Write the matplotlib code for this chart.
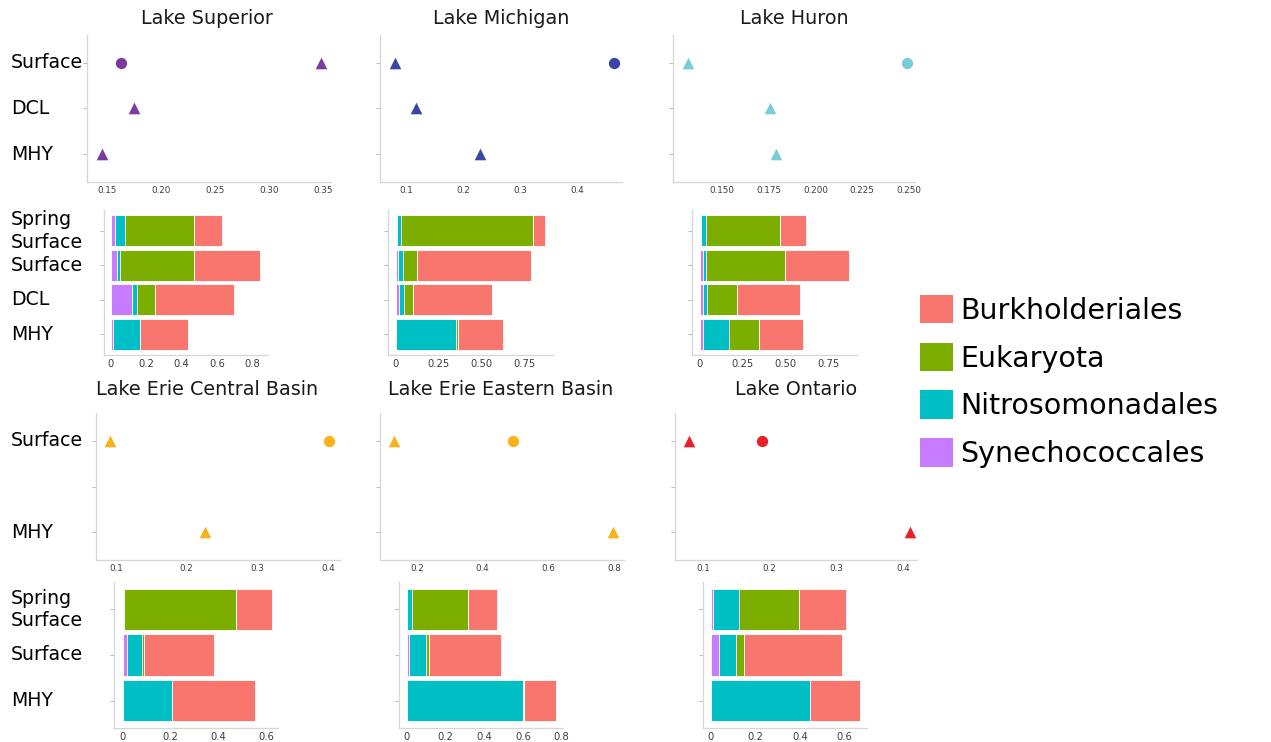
import matplotlib
matplotlib.use("Agg")
import matplotlib.pyplot as plt
from matplotlib.patches import Patch
from matplotlib.transforms import blended_transform_factory

# ---------------- data ----------------
lakes = ["Lake Superior", "Lake Michigan", "Lake Huron",
         "Lake Erie Central Basin", "Lake Erie Eastern Basin", "Lake Ontario"]
lake_colors = ["#7b3a9e", "#3946a6", "#79cdd9", "#fbb118", "#fbb118", "#e8202a"]

depths_3 = ["Surface", "DCL", "MHY"]
depth_labels_erie = ["Surface", "", "MHY"]

# triangle values per depth (Surface, DCL, MHY); None = no sample
tri_superior = [0.348, 0.175, 0.145]
tri_michigan = [0.081, 0.118, 0.230]
tri_huron = [0.132, 0.1755, 0.179]
tri_erie_central = [0.092, None, 0.2255]
tri_erie_eastern = [0.130, None, 0.797]
tri_ontario = [0.079, None, 0.411]

# circle value (surface only)
circ_superior = 0.163
circ_michigan = 0.465
circ_huron = 0.249
circ_erie_central = 0.401
circ_erie_eastern = 0.491
circ_ontario = 0.188

# dot-plot x axes
dot_xlims = [(0.1315, 0.3574), (0.0544, 0.479), (0.1238, 0.2532),
             (0.0717, 0.417), (0.0873, 0.830), (0.058, 0.421)]
dot_ticks = [
    [0.15, 0.20, 0.25, 0.30, 0.35],
    [0.1, 0.2, 0.3, 0.4],
    [0.150, 0.175, 0.200, 0.225, 0.250],
    [0.1, 0.2, 0.3, 0.4],
    [0.2, 0.4, 0.6, 0.8],
    [0.1, 0.2, 0.3, 0.4],
]
dot_ticklabels = [
    ["0.15", "0.20", "0.25", "0.30", "0.35"],
    ["0.1", "0.2", "0.3", "0.4"],
    ["0.150", "0.175", "0.200", "0.225", "0.250"],
    ["0.1", "0.2", "0.3", "0.4"],
    ["0.2", "0.4", "0.6", "0.8"],
    ["0.1", "0.2", "0.3", "0.4"],
]

samples_4 = ["Spring\nSurface", "Surface", "DCL", "MHY"]
samples_3 = ["Spring\nSurface", "Surface", "MHY"]

taxa = ["Synechococcales", "Nitrosomonadales", "Eukaryota", "Burkholderiales"]
taxa_colors = ["#C77CFF", "#00BFC4", "#7CAE00", "#F8766D"]

# relative abundance of each order (stacked left to right)
syn_superior = [0.025, 0.038, 0.119, 0.015]
nit_superior = [0.056, 0.015, 0.031, 0.149]
euk_superior = [0.389, 0.417, 0.102, 0.004]
bur_superior = [0.160, 0.375, 0.446, 0.271]

syn_michigan = [0.006, 0.012, 0.017, 0.004]
nit_michigan = [0.025, 0.033, 0.030, 0.346]
euk_michigan = [0.769, 0.081, 0.056, 0.011]
bur_michigan = [0.070, 0.663, 0.460, 0.265]

syn_huron = [0.010, 0.019, 0.019, 0.019]
nit_huron = [0.027, 0.020, 0.026, 0.153]
euk_huron = [0.430, 0.459, 0.170, 0.173]
bur_huron = [0.149, 0.370, 0.368, 0.258]

syn_erie_central = [0.001, 0.018, 0.002]
nit_erie_central = [0.003, 0.063, 0.204]
euk_erie_central = [0.467, 0.009, 0.001]
bur_erie_central = [0.150, 0.292, 0.346]

syn_erie_eastern = [0.002, 0.012, 0.001]
nit_erie_eastern = [0.026, 0.085, 0.601]
euk_erie_eastern = [0.288, 0.019, 0.001]
bur_erie_eastern = [0.148, 0.368, 0.170]

syn_ontario = [0.009, 0.036, 0.003]
nit_ontario = [0.120, 0.076, 0.443]
euk_ontario = [0.267, 0.038, 0.001]
bur_ontario = [0.211, 0.441, 0.225]

bar_xlims = [(-0.038, 0.889), (-0.045, 0.917), (-0.045, 0.915),
             (-0.036, 0.647), (-0.041, 0.807), (-0.035, 0.702)]
bar_ticks = [
    [0, 0.2, 0.4, 0.6, 0.8],
    [0, 0.25, 0.50, 0.75],
    [0, 0.25, 0.50, 0.75],
    [0, 0.2, 0.4, 0.6],
    [0, 0.2, 0.4, 0.6, 0.8],
    [0, 0.2, 0.4, 0.6],
]
bar_ticklabels = [
    ["0", "0.2", "0.4", "0.6", "0.8"],
    ["0", "0.25", "0.50", "0.75"],
    ["0", "0.25", "0.50", "0.75"],
    ["0", "0.2", "0.4", "0.6"],
    ["0", "0.2", "0.4", "0.6", "0.8"],
    ["0", "0.2", "0.4", "0.6"],
]

# ---------------- layout ----------------
W, H = 1271, 742
fig = plt.figure(figsize=(W / 100, H / 100), dpi=100)
fig.patch.set_facecolor("white")


def axes_px(x0, y0, x1, y1):
    return fig.add_axes([x0 / W, 1 - y1 / H, (x1 - x0) / W, (y1 - y0) / H])


SPINE = "#d6d6d6"
TICKTXT = "#3d3d3d"


def style(ax, fs):
    for s in ("top", "right"):
        ax.spines[s].set_visible(False)
    for s in ("left", "bottom"):
        ax.spines[s].set_color(SPINE)
        ax.spines[s].set_linewidth(0.9)
    ax.tick_params(axis="y", length=3, width=0.7, color="#bbbbbb", labelleft=False)
    ax.tick_params(axis="x", length=0, pad=3, labelsize=fs, labelcolor=TICKTXT)
    ax.set_facecolor("white")


dot_boxes = [(87, 35, 331, 182), (380, 35, 622, 182), (673, 35, 915, 182),
             (96, 413, 340, 560), (380, 413, 624, 560), (675, 413, 917, 560)]
bar_boxes = [(104, 210, 268, 355), (388, 210, 553, 355), (692, 210, 857, 355),
             (114, 582, 278, 728), (399, 582, 563, 728), (703, 582, 867, 728)]
title_centers = [(207, 18), (501, 18), (794, 18), (207, 390), (501, 390), (796, 390)]

tri_all = [tri_superior, tri_michigan, tri_huron,
           tri_erie_central, tri_erie_eastern, tri_ontario]
circ_all = [circ_superior, circ_michigan, circ_huron,
            circ_erie_central, circ_erie_eastern, circ_ontario]
bars_all = [
    (syn_superior, nit_superior, euk_superior, bur_superior),
    (syn_michigan, nit_michigan, euk_michigan, bur_michigan),
    (syn_huron, nit_huron, euk_huron, bur_huron),
    (syn_erie_central, nit_erie_central, euk_erie_central, bur_erie_central),
    (syn_erie_eastern, nit_erie_eastern, euk_erie_eastern, bur_erie_eastern),
    (syn_ontario, nit_ontario, euk_ontario, bur_ontario),
]

LABEL_X = 11 / W
LABEL_FS = 13.6

for i in range(6):
    col = lake_colors[i]

    # dot panel
    ax = axes_px(*dot_boxes[i])
    style(ax, 6.3)
    ys = [k for k, v in enumerate(tri_all[i]) if v is not None]
    xs = [v for v in tri_all[i] if v is not None]
    ax.scatter(xs, ys, marker="^", s=70, color=col, linewidths=0, zorder=3,
               clip_on=False)
    ax.scatter([circ_all[i]], [0], marker="o", s=66, color=col, linewidths=0,
               zorder=3, clip_on=False)
    ax.set_yticks(range(3))
    ax.set_ylim(2.6, -0.6)
    ax.set_xlim(*dot_xlims[i])
    ax.set_xticks(dot_ticks[i])
    ax.set_xticklabels(dot_ticklabels[i])
    if i % 3 == 0:
        labels = depths_3 if i < 3 else depth_labels_erie
        tr = blended_transform_factory(fig.transFigure, ax.transData)
        for k, lab in enumerate(labels):
            if lab:
                ax.text(LABEL_X, k, lab, transform=tr, ha="left", va="center",
                        fontsize=LABEL_FS, color="black")
    fig.text(title_centers[i][0] / W, 1 - title_centers[i][1] / H, lakes[i],
             ha="center", va="center", fontsize=13.8, color="#1a1a1a")

    # stacked bar panel
    bx = axes_px(*bar_boxes[i])
    style(bx, 7.2)
    samples = samples_4 if i < 3 else samples_3
    n = len(samples)
    left = [0.0] * n
    for vals, c in zip(bars_all[i], taxa_colors):
        bx.barh(range(n), vals, left=left, height=0.9, color=c,
                edgecolor="white", linewidth=0.6, zorder=2)
        left = [a + b for a, b in zip(left, vals)]
    bx.set_xlim(*bar_xlims[i])
    bx.set_yticks(range(n))
    bx.set_ylim(n - 0.4, -0.6)
    bx.set_xticks(bar_ticks[i])
    bx.set_xticklabels(bar_ticklabels[i])
    if i % 3 == 0:
        tr = blended_transform_factory(fig.transFigure, bx.transData)
        for k, lab in enumerate(samples):
            bx.text(LABEL_X, k, lab, transform=tr, ha="left", va="center",
                    fontsize=LABEL_FS, color="black", linespacing=1.25)

# legend (top to bottom: Burkholderiales ... Synechococcales)
handles = [Patch(facecolor=c, edgecolor="none") for c in reversed(taxa_colors)]
fig.legend(handles, list(reversed(taxa)), loc="center left",
           bbox_to_anchor=(920 / W, 1 - 381.5 / H), frameon=False,
           fontsize=20.5, handlelength=1.16, handleheight=1.16,
           handletextpad=0.25, labelspacing=0.63, borderpad=0, borderaxespad=0)

fig.savefig("out.png", dpi=100, facecolor="white")
